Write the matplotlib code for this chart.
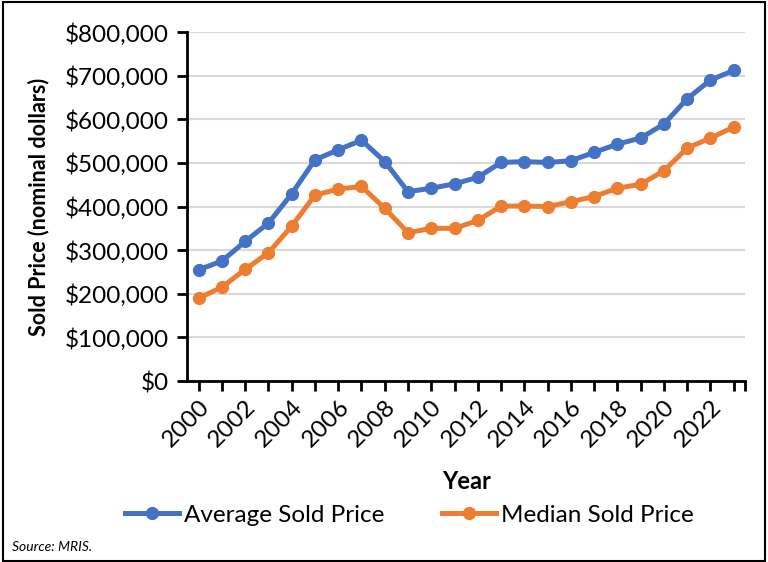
import matplotlib.pyplot as plt
from matplotlib.patches import Rectangle
from matplotlib.ticker import FuncFormatter

plt.rcParams['font.family'] = ['Lato', 'DejaVu Sans']

# Sold price data, 2000-2023
years = list(range(2000, 2024))
avg_price = [255000, 275000, 320000, 362000, 429000, 507000, 530000, 552000,
             503000, 434000, 442000, 452000, 467000, 501000, 503000, 501000,
             505000, 524000, 543000, 557000, 589000, 647000, 690000, 712000]
median_price = [190000, 215000, 256000, 294000, 355000, 426000, 440000, 446000,
                396000, 340000, 350000, 350000, 368000, 401000, 401000, 400000,
                411000, 423000, 442000, 451000, 482000, 534000, 557000, 582000]

blue = '#4472C4'
orange = '#ED7D31'

fig = plt.figure(figsize=(7.68, 5.62), dpi=100)
ax = fig.add_axes([0.2435, 0.322, 0.727, 0.621])

ax.plot(years, avg_price, color=blue, lw=3.6, marker='o', ms=8.5,
        label='Average Sold Price')
ax.plot(years, median_price, color=orange, lw=3.6, marker='o', ms=8.5,
        label='Median Sold Price')

ax.set_ylim(0, 800000)
ax.set_xlim(years[0] - 0.5, years[-1] + 0.5)
ax.set_yticks(range(0, 800001, 100000))
ax.yaxis.set_major_formatter(FuncFormatter(lambda v, p: f'${v:,.0f}'))
ax.grid(axis='y', color='#d9d9d9', lw=1.5)
ax.set_axisbelow(True)

# ticks at every year, labels every other year
ax.set_xticks(years + [years[-1] + 0.5])
ax.set_xticklabels([str(y) if (y - 2000) % 2 == 0 and y <= 2022 else '' for y in years] + [''],
                   rotation=45, ha='right', rotation_mode='anchor')

for s in ['top', 'right']:
    ax.spines[s].set_visible(False)
for s in ['left', 'bottom']:
    ax.spines[s].set_linewidth(2)
ax.tick_params(axis='y', length=7, width=2, labelsize=17.5, pad=6)
ax.tick_params(axis='x', length=7, width=2, labelsize=17.5, pad=4)

ax.set_ylabel('Sold Price (nominal dollars)', fontsize=15.5, fontweight='bold')
ax.yaxis.set_label_coords(-0.246, 0.5)
ax.set_xlabel('Year', fontsize=17, fontweight='bold', va='center')
ax.xaxis.set_label_coords(0.5, -0.289)

fig.legend(loc='center', bbox_to_anchor=(0.533, 0.083), ncol=2, frameon=False,
           fontsize=17.5, handlelength=2.25, handletextpad=0.2, columnspacing=2.35)

fig.text(0.016, 0.02, 'Source: MRIS.', fontsize=10, style='italic')
fig.patches.append(Rectangle((0.004, 0.002), 0.992, 0.994, transform=fig.transFigure,
                             fill=False, edgecolor='black', lw=1.5))

fig.savefig('out.png', dpi=100)
